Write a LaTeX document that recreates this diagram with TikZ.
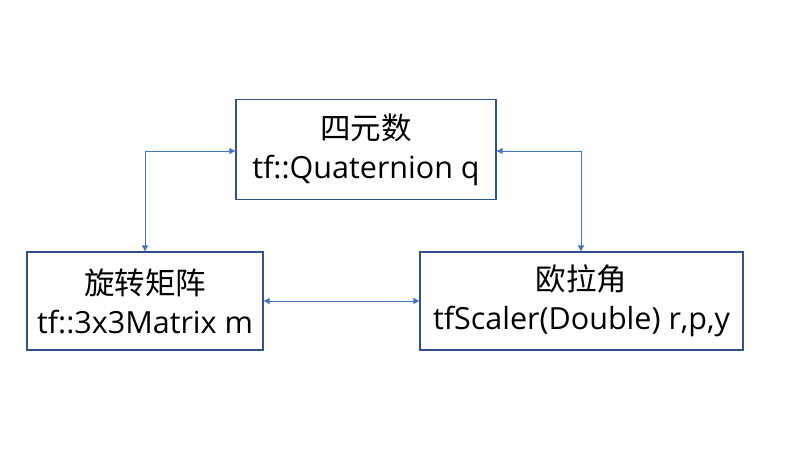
\documentclass[tikz,border=0pt]{standalone}
\usepackage{fontspec}
\setmainfont{Open Sans}
\newfontfamily\cjk{Noto Sans CJK SC}
\usetikzlibrary{arrows.meta}
\definecolor{boxline}{HTML}{2F528F}
\definecolor{conn}{HTML}{4472C4}
\begin{document}
\begin{tikzpicture}[x=1pt,y=-1pt,
  blk/.style={draw=boxline,line width=1.3pt,fill=white,inner sep=0pt,align=center,font=\fontsize{30.5}{39}\selectfont},
  link/.style={draw=conn,line width=0.9pt,{Triangle[width=6pt,length=6pt]}-{Triangle[width=6pt,length=6pt]}}]
\useasboundingbox (0,0) rectangle (805,458);
\node[blk,minimum width=260pt,minimum height=100pt] (q) at (366,149.5) {{\cjk 四元数}\\tf::Quaternion q};
\node[blk,minimum width=236pt,minimum height=98pt] (m) at (145,301) {{\cjk 旋转矩阵}\\tf::3x3Matrix m};
\node[blk,minimum width=323pt,minimum height=98pt] (e) at (581.5,301) {{\cjk 欧拉角}\\tfScaler(Double) r,p,y};
\draw[link] (q.west |- 0,151) -| (m.north -| 145,0);
\draw[link] (q.east |- 0,151) -| (e.north -| 581,0);
\draw[link] (m.east |- 0,301) -- (e.west |- 0,301);
\end{tikzpicture}
\end{document}
